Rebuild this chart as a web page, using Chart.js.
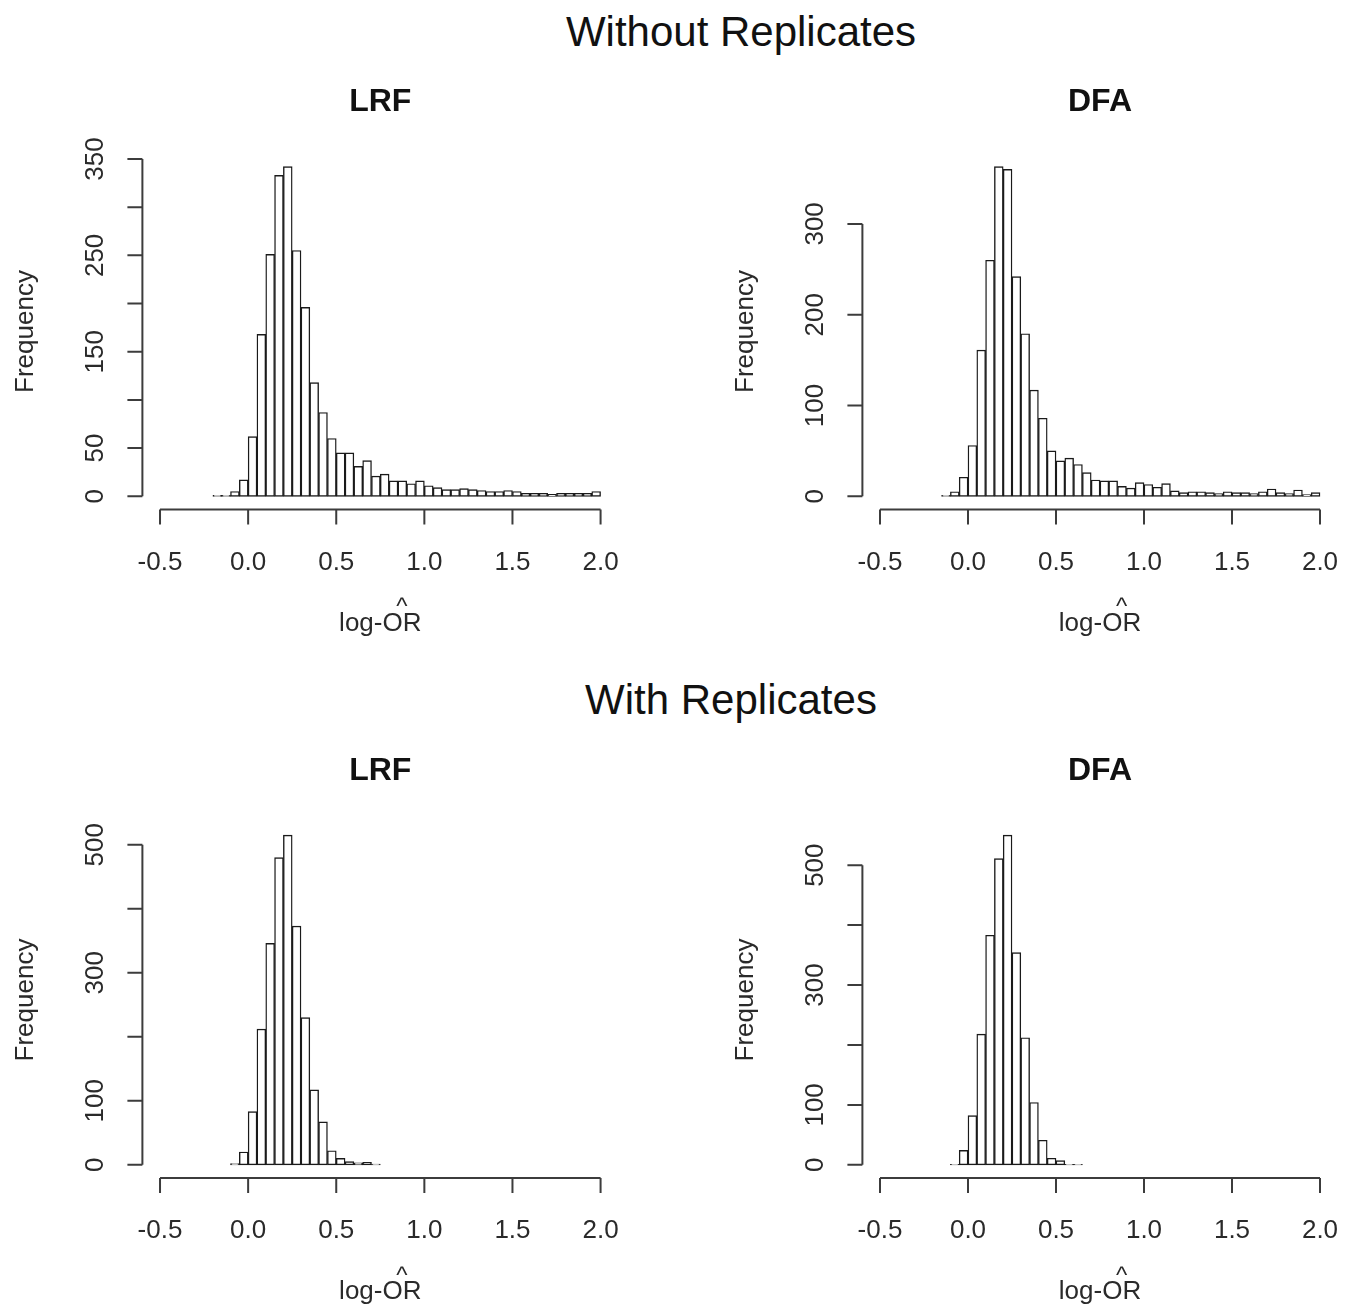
<!DOCTYPE html>
<html>
<head>
<meta charset="utf-8">
<title>log-OR histograms</title>
<script src="https://cdn.jsdelivr.net/npm/chart.js@4.4.0/dist/chart.umd.min.js"></script>
<style>
  body {
    margin: 0;
    width: 1360px;
    height: 1311px;
    position: relative;
    overflow: hidden;
    background: #fff;
    font-family: 'Liberation Sans', Arial, sans-serif;
  }
  .section {
    position: absolute;
    font-size: 42px;
    color: #111;
    white-space: nowrap;
    transform: translate(-50%, -50%);
  }
  canvas { position: absolute; }
</style>
</head>
<body>
<div class="section" style="left:741px; top:32px">Without Replicates</div>
<div class="section" style="left:731px; top:700px">With Replicates</div>

<canvas id="lrfTop" width="680" height="600" style="left:0; top:66px"></canvas>
<canvas id="dfaTop" width="680" height="600" style="left:680px; top:66px"></canvas>
<canvas id="lrfBottom" width="680" height="583" style="left:0; top:728px"></canvas>
<canvas id="dfaBottom" width="680" height="583" style="left:680px; top:728px"></canvas>

<script>
// bin width of every histogram
const binWidth = 0.05;

// x axis (shared)
const xTicks = [-0.5, 0, 0.5, 1, 1.5, 2];
const xTickLabels = ['-0.5', '0.0', '0.5', '1.0', '1.5', '2.0'];

// Without replicates - LRF, bins start at -0.2
const lrfTopStart = -0.2;
const lrfTopCounts = [1, 1, 5, 17, 62, 168, 251, 333, 342, 255, 196, 118, 87, 60,
  45, 45, 31, 37, 21, 23, 16, 16, 13, 16, 11, 9, 7, 7, 8, 7, 6, 5, 5, 6,
  5, 3, 3, 3, 2, 3, 3, 3, 3, 5];
const lrfTopYTicks = [0, 50, 100, 150, 200, 250, 300, 350];
const lrfTopYLabels = [0, 50, 150, 250, 350];

// Without replicates - DFA, bins start at -0.15
const dfaTopStart = -0.15;
const dfaTopCounts = [1, 5, 21, 56, 161, 260, 363, 360, 242, 179, 117, 86, 50, 39,
  42, 35, 26, 18, 17, 17, 11, 9, 15, 13, 10, 14, 6, 4, 5, 5, 4, 3, 5, 4,
  4, 3, 5, 8, 4, 3, 7, 2, 4];
const dfaTopYTicks = [0, 100, 200, 300];
const dfaTopYLabels = [0, 100, 200, 300];

// With replicates - LRF, bins start at -0.1
const lrfBottomStart = -0.1;
const lrfBottomCounts = [2, 20, 83, 212, 346, 480, 515, 373, 230, 117, 67, 22, 10, 5, 3, 4, 1];
const lrfBottomYTicks = [0, 100, 200, 300, 400, 500];
const lrfBottomYLabels = [0, 100, 300, 500];

// With replicates - DFA, bins start at -0.1
const dfaBottomStart = -0.1;
const dfaBottomCounts = [1, 24, 82, 218, 383, 511, 550, 354, 212, 104, 41, 11, 7, 1, 1];
const dfaBottomYTicks = [0, 100, 200, 300, 400, 500];
const dfaBottomYLabels = [0, 100, 300, 500];

const FONT = '"Liberation Sans", Arial, sans-serif';

// R-style axes: detached lines spanning only the tick range, rotated y labels
function rAxes(title, yTicks, yLabels) {
  return {
    id: 'rAxes',
    afterDraw(chart) {
      const { ctx, chartArea: a, scales: { x, y } } = chart;
      ctx.save();
      ctx.strokeStyle = '#3c3c3c';
      ctx.lineWidth = 2;
      ctx.beginPath();
      ctx.moveTo(x.getPixelForValue(xTicks[0]), a.bottom);
      ctx.lineTo(x.getPixelForValue(xTicks[xTicks.length - 1]), a.bottom);
      xTicks.forEach(v => {
        const px = x.getPixelForValue(v);
        ctx.moveTo(px, a.bottom);
        ctx.lineTo(px, a.bottom + 15);
      });
      ctx.moveTo(a.left, y.getPixelForValue(yTicks[0]));
      ctx.lineTo(a.left, y.getPixelForValue(yTicks[yTicks.length - 1]));
      yTicks.forEach(v => {
        const py = y.getPixelForValue(v);
        ctx.moveTo(a.left, py);
        ctx.lineTo(a.left - 15, py);
      });
      ctx.stroke();

      ctx.fillStyle = '#2a2a2a';
      ctx.font = '26px ' + FONT;
      ctx.textAlign = 'center';
      ctx.textBaseline = 'middle';
      xTicks.forEach((v, i) => {
        ctx.fillText(xTickLabels[i], x.getPixelForValue(v), a.bottom + 53);
      });
      yLabels.forEach(v => {
        ctx.save();
        ctx.translate(a.left - 47, y.getPixelForValue(v));
        ctx.rotate(-Math.PI / 2);
        ctx.fillText(String(v), 0, 0);
        ctx.restore();
      });

      const cx = (a.left + a.right) / 2;
      const cy = (a.top + a.bottom) / 2;
      ctx.save();
      ctx.translate(a.left - 117, cy);
      ctx.rotate(-Math.PI / 2);
      ctx.fillText('Frequency', 0, 0);
      ctx.restore();

      // log-OR with a hat over "OR"
      const ly = a.bottom + 114;
      ctx.fillText('log-OR', cx, ly);
      const full = ctx.measureText('log-OR').width;
      const pre = ctx.measureText('log-').width;
      const or = ctx.measureText('OR').width;
      ctx.font = '24px ' + FONT;
      ctx.fillText('^', cx - full / 2 + pre + or / 2, ly - 16);

      ctx.fillStyle = '#111';
      ctx.font = 'bold 32px ' + FONT;
      ctx.fillText(title, cx, a.top - 51);
      ctx.restore();
    }
  };
}

function makeHist(id, canvasLeft, canvasTop, box, start, counts, yTicks, yLabels, title) {
  const canvas = document.getElementById(id);
  const top = Math.max(...counts);
  new Chart(canvas.getContext('2d'), {
    type: 'bar',
    data: {
      datasets: [{
        data: counts.map((c, i) => ({ x: start + (i + 0.5) * binWidth, y: c })),
        backgroundColor: '#ffffff',
        borderColor: '#1a1a1a',
        borderWidth: 1.4,
        borderSkipped: false,
        barPercentage: 1,
        categoryPercentage: 1,
      }],
    },
    options: {
      responsive: false,
      animation: false,
      events: [],
      layout: {
        padding: {
          left: box.left - canvasLeft,
          top: box.top - canvasTop,
          right: canvasLeft + canvas.width - box.right,
          bottom: canvasTop + canvas.height - box.bottom,
        },
      },
      plugins: {
        legend: { display: false },
        tooltip: { enabled: false },
      },
      scales: {
        x: { type: 'linear', display: false, offset: false, min: -0.6, max: 2.1 },
        y: { display: false, min: -0.04 * top, max: 1.04 * top },
      },
    },
    plugins: [rAxes(title, yTicks, yLabels)],
  });
}

makeHist('lrfTop', 0, 66, { left: 142.4, right: 618.2, top: 153.5, bottom: 509.5 },
  lrfTopStart, lrfTopCounts, lrfTopYTicks, lrfTopYLabels, 'LRF');
makeHist('dfaTop', 680, 66, { left: 862.4, right: 1337.6, top: 153.5, bottom: 509.5 },
  dfaTopStart, dfaTopCounts, dfaTopYTicks, dfaTopYLabels, 'DFA');
makeHist('lrfBottom', 0, 728, { left: 142.4, right: 618.2, top: 822, bottom: 1178 },
  lrfBottomStart, lrfBottomCounts, lrfBottomYTicks, lrfBottomYLabels, 'LRF');
makeHist('dfaBottom', 680, 728, { left: 862.4, right: 1337.6, top: 822, bottom: 1178 },
  dfaBottomStart, dfaBottomCounts, dfaBottomYTicks, dfaBottomYLabels, 'DFA');
</script>
</body>
</html>
